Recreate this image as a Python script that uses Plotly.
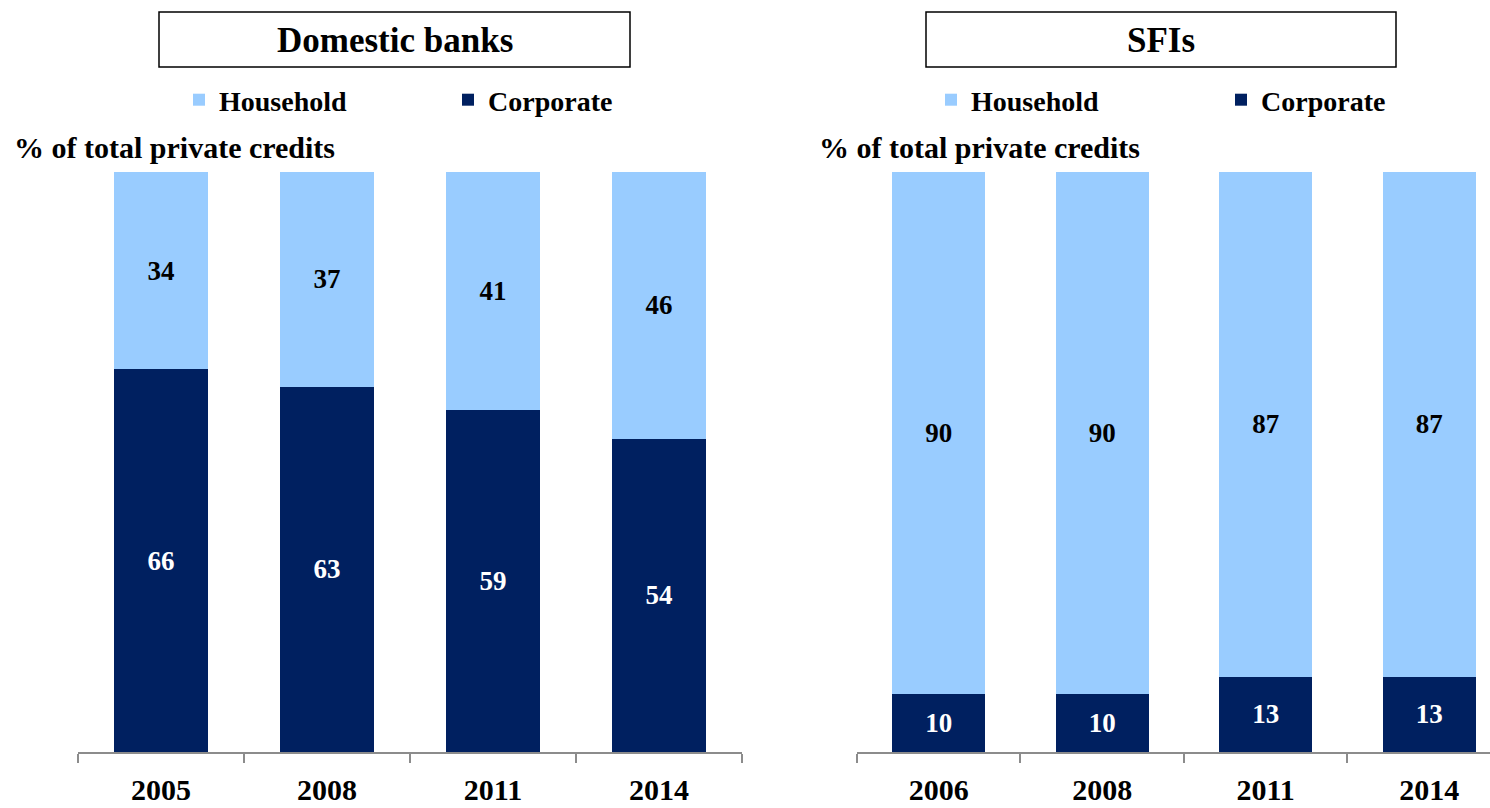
import plotly.graph_objects as go

# Share of total private credits by borrower type (%)
bank_years = ["2005", "2008", "2011", "2014"]
bank_household = [34, 37, 41, 46]
bank_corporate = [66, 63, 59, 54]

sfi_years = ["2006", "2008", "2011", "2014"]
sfi_household = [90, 90, 87, 87]
sfi_corporate = [10, 10, 13, 13]

panel_titles = ["Domestic banks", "SFIs"]
y_label = "% of total private credits"

LIGHT = "#99CCFF"
DARK = "#002060"
FONT = "Liberation Serif, Times New Roman, serif"
W, H = 1490, 808


def px_x(v):
    return v / W


def px_y(v):
    return 1 - v / H


def bar(x, y, name, color, text_color, xa, ya, leg):
    return go.Bar(
        x=x, y=y, name=name,
        marker=dict(color=color, line=dict(width=0)),
        text=y, textposition="inside", insidetextanchor="middle",
        textfont=dict(color=text_color, family=FONT, size=27, weight="bold"),
        xaxis=xa, yaxis=ya, legend=leg,
    )


fig = go.Figure()
# Left panel: domestic banks (corporate stacked at the bottom)
fig.add_trace(bar(bank_years, bank_corporate, "Corporate", DARK, "white", "x", "y", "legend2"))
fig.add_trace(bar(bank_years, bank_household, "Household", LIGHT, "black", "x", "y", "legend"))
# Right panel: SFIs
fig.add_trace(bar(sfi_years, sfi_corporate, "Corporate", DARK, "white", "x2", "y2", "legend4"))
fig.add_trace(bar(sfi_years, sfi_household, "Household", LIGHT, "black", "x2", "y2", "legend3"))

y_dom = [px_y(752), px_y(172)]
xaxis_style = dict(
    type="category", showline=True, linecolor="#8c8c8c", linewidth=1.5,
    ticks="outside", tickson="boundaries", ticklen=9, tickcolor="#8c8c8c",
    tickwidth=1.5, showgrid=False, zeroline=False, ticklabelstandoff=10,
    tickfont=dict(family=FONT, size=30, color="black", weight="bold"),
    fixedrange=True,
)
yaxis_style = dict(range=[0, 100], visible=False, showgrid=False, fixedrange=True)


def legend_at(x_px):
    return dict(
        x=px_x(x_px), y=px_y(100), xanchor="left", yanchor="middle",
        orientation="h", itemwidth=30,
        font=dict(family=FONT, size=28, color="black", weight="bold"),
        bgcolor="rgba(0,0,0,0)", borderwidth=0,
    )


fig.update_layout(
    width=W, height=H,
    margin=dict(l=0, r=0, t=0, b=0, autoexpand=False),
    paper_bgcolor="white", plot_bgcolor="white",
    barmode="stack", bargap=0.43,
    showlegend=True,
    xaxis=dict(domain=[px_x(78), px_x(742)], range=[-0.5, 3.5], anchor="y", **xaxis_style),
    yaxis=dict(domain=y_dom, anchor="x", **yaxis_style),
    xaxis2=dict(domain=[px_x(857), 1.0], range=[-0.5, 3.372], anchor="y2", **xaxis_style),
    yaxis2=dict(domain=y_dom, anchor="x2", **yaxis_style),
    legend=legend_at(179),
    legend2=legend_at(448),
    legend3=legend_at(931),
    legend4=legend_at(1221),
)

# Boxed panel titles
title_boxes = [(159, 630), (926, 1396)]
for (x0, x1), title in zip(title_boxes, panel_titles):
    fig.add_shape(type="rect", xref="paper", yref="paper",
                  x0=px_x(x0), x1=px_x(x1), y0=px_y(67), y1=px_y(12),
                  line=dict(color="black", width=1.5), fillcolor="white")
    fig.add_annotation(xref="paper", yref="paper", x=px_x((x0 + x1) / 2), y=px_y(40),
                       text=title, showarrow=False, xanchor="center", yanchor="middle",
                       font=dict(family=FONT, size=35, color="black", weight="bold"))

# Unit labels above each panel
for x_left in (12, 817):
    fig.add_annotation(xref="paper", yref="paper", x=px_x(x_left), y=px_y(148),
                       text=y_label, showarrow=False, xanchor="left", yanchor="middle",
                       font=dict(family=FONT, size=30, color="black", weight="bold"))

fig.write_html("out.html")
